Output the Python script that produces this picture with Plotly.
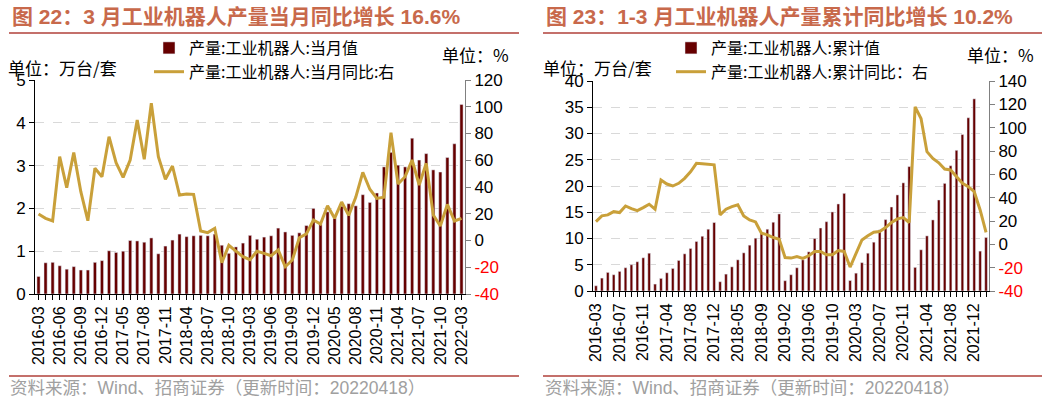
import plotly.graph_objects as go

W, H = 1064, 405

# ---- data: monthly output (left) ----
m_months = [f"{y}-{m:02d}" for y in range(2016, 2022) for m in range(3, 13)] + ["2022-03"]
m_output = [0.41, 0.73, 0.74, 0.66, 0.58, 0.64, 0.56, 0.56, 0.74, 0.78,
            1.01, 0.97, 1.00, 1.25, 1.24, 1.21, 1.31, 0.94, 1.12, 1.26,
            1.40, 1.34, 1.36, 1.37, 1.36, 1.40, 1.14, 0.95, 1.10, 1.19,
            1.37, 1.28, 1.33, 1.36, 1.54, 1.45, 1.37, 1.43, 1.60, 2.00,
            1.63, 1.92, 1.77, 2.05, 2.11, 2.06, 2.32, 2.14, 2.36, 2.97,
            3.31, 3.01, 2.97, 3.64, 3.13, 3.28, 2.90, 2.85, 3.19, 3.51,
            4.43]
m_yoy = [19.8, 16.6, 14.6, 62.7, 39.5, 65.7, 36.5, 14.8, 54.0, 47.7,
         77.6, 58.2, 47.2, 60.2, 90.0, 60.7, 102.6, 62.7, 45.8, 55.7,
         34.0, 34.8, 34.5, 7.1, 5.9, 9.1, -16.6, -3.6, -7.9, -12.1,
         -14.3, -8.0, -9.6, -11.4, -7.1, -19.6, -14.6, 2.1, 4.9, 15.3,
         12.3, 26.0, 16.6, 28.8, 18.8, 32.3, 51.0, 38.3, 31.5, 32.3,
         80.6, 42.2, 47.7, 60.2, 41.5, 57.7, 19.1, 10.8, 27.0, 14.6,
         16.6]

# ---- data: cumulative output (right) ----
c_months = ([f"2016-{m:02d}" for m in range(3, 13)]
            + [f"{y}-{m:02d}" for y in range(2017, 2022) for m in range(2, 13)]
            + ["2022-02", "2022-03"])
c_output = [1.00, 2.46, 3.54, 3.10, 3.73, 4.43, 5.00, 5.57, 6.33, 7.20,
            1.32, 2.40, 3.47, 4.30, 5.82, 7.08, 8.10, 9.43, 10.43, 11.77, 13.04,
            1.77, 3.22, 4.60, 5.94, 7.27, 8.73, 10.06, 10.90, 11.77, 13.10, 14.68,
            1.96, 3.10, 4.43, 5.94, 7.46, 10.00, 12.00, 13.20, 15.06, 16.58, 18.60,
            2.00, 3.40, 5.40, 7.20, 9.30, 11.64, 13.60, 16.00, 18.30, 20.60, 23.70,
            4.50, 7.85, 10.50, 13.54, 17.34, 20.50, 23.86, 26.80, 29.80, 33.00, 36.60,
            7.60, 10.20]
c_yoy = [19.5, 24.4, 25.2, 28.0, 27.2, 32.9, 30.6, 28.9, 31.5, 34.4,
         30.1, 55.1, 51.7, 50.0, 52.3, 56.6, 62.2, 69.4, 69.1, 68.8, 68.2,
         25.2, 30.1, 32.3, 33.8, 24.4, 20.9, 19.2, 9.6, 8.1, 5.8, 4.4,
         -11.3, -11.8, -10.4, -12.1, -9.8, -6.1, -6.1, -9.0, -9.0, -5.3, -6.1,
         -19.5, -7.5, 3.8, 7.3, 10.4, 11.0, 14.4, 18.7, 21.8, 22.9, 18.7,
         117.8, 107.9, 79.4, 73.6, 69.9, 64.5, 63.7, 58.0, 52.3, 49.4, 45.1,
         29.5, 10.2]

BAR = "#660000"
LINE = "#C9A03A"
TITLE_C = "#C8694B"
RULE_C = "#B0413A"
NUM_FONT = "Liberation Sans"
CJK = "Noto Sans CJK SC"
MIXED = "Liberation Sans, Noto Sans CJK SC"


def px_x(v):
    return v / W


def px_y(v):
    return 1 - v / H


def sparse_ticks(cats, step):
    return [c if i % step == 0 else "" for i, c in enumerate(cats)]


def right_ticks(lo, hi, step):
    vals = list(range(lo, hi + 1, step))
    txt = [f'<span style="color:red">{v}</span>' if v < 0 else str(v) for v in vals]
    return vals, txt


fig = go.Figure()

fig.add_trace(go.Bar(x=m_months, y=m_output, name="产量:工业机器人:当月值",
                     marker_color=BAR, xaxis="x", yaxis="y", legend="legend"))
fig.add_trace(go.Scatter(x=m_months, y=m_yoy, name="产量:工业机器人:当月同比:右",
                         mode="lines", line=dict(color=LINE, width=3),
                         xaxis="x", yaxis="y2", legend="legend"))
fig.add_trace(go.Bar(x=c_months, y=c_output, name="产量:工业机器人:累计值",
                     marker_color=BAR, xaxis="x2", yaxis="y3", legend="legend2"))
fig.add_trace(go.Scatter(x=c_months, y=c_yoy, name="产量:工业机器人:累计同比：右",
                         mode="lines", line=dict(color=LINE, width=3),
                         xaxis="x2", yaxis="y4", legend="legend2"))

xcommon = dict(type="category", showgrid=False, showline=True, linecolor="black",
               ticks="outside", ticklen=5, tickcolor="black", tickangle=-90,
               automargin=False,
               tickfont=dict(family=NUM_FONT, size=16, color="black"))
ycommon = dict(showline=True, linecolor="black", ticks="outside", ticklen=5,
               tickcolor="black", zeroline=False, automargin=False,
               tickfont=dict(family=NUM_FONT, size=17, color="black"))
grid = dict(showgrid=True, gridcolor="#D9D9D9", griddash="dash", gridwidth=1)

rv1, rt1 = right_ticks(-40, 120, 20)
rv2, rt2 = right_ticks(-40, 140, 20)

legend_font = dict(family=CJK, size=16, color="black")

fig.update_layout(
    width=W, height=H, margin=dict(l=0, r=0, t=0, b=0),
    paper_bgcolor="white", plot_bgcolor="white", bargap=0.55,
    xaxis=dict(**xcommon, domain=[px_x(35), px_x(465)], anchor="y",
               tickvals=m_months, ticktext=sparse_ticks(m_months, 3)),
    yaxis=dict(**ycommon, **grid, domain=[px_y(294), px_y(80)], range=[0, 5], dtick=1,
               anchor="x"),
    yaxis2=dict(ycommon, overlaying="y", side="right", anchor="x", range=[-40, 120],
                tickvals=rv1, ticktext=rt1, showgrid=False, linecolor="#808080",
                tickcolor="#808080"),
    xaxis2=dict(xcommon, domain=[px_x(593), px_x(989)], anchor="y3",
                tickvals=c_months, ticktext=sparse_ticks(c_months, 4)),
    yaxis3=dict(**ycommon, **grid, domain=[px_y(291), px_y(81)], range=[0, 40], dtick=5,
                anchor="x2"),
    yaxis4=dict(ycommon, overlaying="y3", side="right", anchor="x2", range=[-40, 140],
                tickvals=rv2, ticktext=rt2, showgrid=False, linecolor="#808080",
                tickcolor="#808080"),
    legend=dict(x=px_x(149), y=px_y(31), xanchor="left", yanchor="top",
                bgcolor="rgba(0,0,0,0)", tracegroupgap=0, font=legend_font),
    legend2=dict(x=px_x(671), y=px_y(31), xanchor="left", yanchor="top",
                 bgcolor="rgba(0,0,0,0)", tracegroupgap=0, font=legend_font),
    showlegend=True,
)

titles = [(10, "图 22：3 月工业机器人产量当月同比增长 16.6%"),
          (544, "图 23：1-3 月工业机器人产量累计同比增长 10.2%")]
for x0, t in titles:
    fig.add_annotation(x=px_x(x0), y=px_y(17), xref="paper", yref="paper",
                       xanchor="left", yanchor="middle", showarrow=False,
                       text=f"<b>{t}</b>",
                       font=dict(family=MIXED, size=21, color=TITLE_C))

for x0, x1 in [(9, 519), (543, 1042)]:
    for yy in (33, 376):
        fig.add_shape(type="line", xref="paper", yref="paper",
                      x0=px_x(x0), x1=px_x(x1), y0=px_y(yy), y1=px_y(yy),
                      line=dict(color=RULE_C, width=1.5))

units = [(6, 68, "单位：万台/套"), (440, 55, "单位：%"),
         (541, 68, "单位：万台/套"), (965, 55, "单位：%")]
for x0, y0, t in units:
    fig.add_annotation(x=px_x(x0), y=px_y(y0), xref="paper", yref="paper",
                       xanchor="left", yanchor="middle", showarrow=False, text=t,
                       font=dict(family=CJK, size=17, color="black"))

for x0 in (8, 543):
    fig.add_annotation(x=px_x(x0), y=px_y(388), xref="paper", yref="paper",
                       xanchor="left", yanchor="middle", showarrow=False,
                       text="资料来源：Wind、招商证券（更新时间：20220418）",
                       font=dict(family=MIXED, size=17.5, color="#A0A0A0"))

# the page body has a default 8px margin; drop it so the figure sits at the corner
fig.write_html("out.html", config={"displayModeBar": False},
               post_script="document.body.style.margin = '0px';")
